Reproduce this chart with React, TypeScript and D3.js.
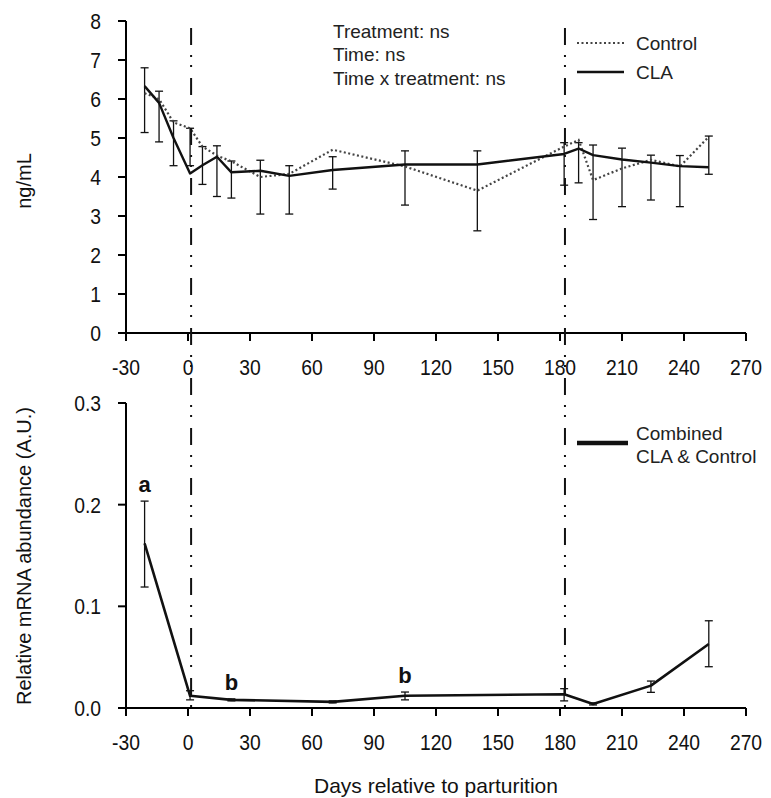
import React from "react";
import * as d3 from "d3";

// ---- Data ----
const topDays = [-21, -14, -7, 1, 7, 14, 21, 35, 49, 70, 105, 140, 182, 189, 196, 210, 224, 238, 252];
const claValues = [6.33, 5.9, 5.0, 4.09, 4.3, 4.52, 4.12, 4.16, 4.03, 4.18, 4.32, 4.32, 4.59, 4.73, 4.56, 4.45, 4.37, 4.28, 4.25];
const controlValues = [6.15, 6.0, 5.4, 5.25, 4.78, 4.55, 4.4, 4.0, 4.08, 4.7, 4.27, 3.65, 4.78, 4.95, 3.92, 4.22, 4.44, 4.27, 5.03];
const topErrLow = [5.14, 4.9, 4.29, 4.29, 3.81, 3.5, 3.46, 3.05, 3.05, 3.69, 3.28, 2.62, 3.79, 3.85, 2.91, 3.24, 3.41, 3.24, 4.07];
const topErrHigh = [6.8, 6.2, 5.44, 5.25, 4.78, 4.8, 4.41, 4.43, 4.29, 4.52, 4.67, 4.67, 4.88, 4.88, 4.82, 4.74, 4.56, 4.55, 5.05];

const botDays = [-21, 1, 21, 70, 105, 182, 196, 224, 252];
const mrnaValues = [0.162, 0.012, 0.008, 0.006, 0.012, 0.0135, 0.004, 0.022, 0.063];
const botErrLow = [0.119, 0.008, 0.007, 0.005, 0.008, 0.007, 0.003, 0.0154, 0.0406];
const botErrHigh = [0.2035, 0.017, 0.009, 0.007, 0.0157, 0.019, 0.005, 0.0265, 0.0858];

const xTicks = [-30, 0, 30, 60, 90, 120, 150, 180, 210, 240, 270];
const topYTicks = [0, 1, 2, 3, 4, 5, 6, 7, 8];
const botYTicks = [0, 0.1, 0.2, 0.3];
const refLineDays = [1.5, 182.4];
const sigLetters = [
  { day: -21, value: 0.2035, letter: "a" },
  { day: 21, value: 0.009, letter: "b" },
  { day: 105, value: 0.0157, letter: "b" },
];
const statsLines = ["Treatment:  ns", "Time: ns", "Time x treatment: ns"];

const FONT = "'Liberation Sans', Arial, Helvetica, sans-serif";

export default function App() {
  const x = d3.scaleLinear().domain([-30, 270]).range([126, 746]);
  const yTop = d3.scaleLinear().domain([0, 8]).range([333, 21]);
  const yBot = d3.scaleLinear().domain([0, 0.3]).range([708, 403]);

  const topLine = (vals: number[]) =>
    d3.line<number>().x((_, i) => x(topDays[i])).y((v) => yTop(v))(vals) || "";
  const botLine =
    d3.line<number>().x((_, i) => x(botDays[i])).y((v) => yBot(v))(mrnaValues) || "";

  const cap = 4;
  const errBar = (cx: number, y1: number, y2: number, key: string) => (
    <g key={key} stroke="#111" strokeWidth={1.3}>
      <line x1={cx} x2={cx} y1={y1} y2={y2} />
      <line x1={cx - cap} x2={cx + cap} y1={y1} y2={y1} />
      <line x1={cx - cap} x2={cx + cap} y1={y2} y2={y2} />
    </g>
  );

  // slightly tall, narrow text like the reference
  const tallText = (tx: number, ty: number, s: string, size: number, anchor: string, key?: string) => (
    <text
      key={key}
      transform={`translate(${tx},${ty}) scale(0.92,1.08)`}
      textAnchor={anchor as any}
      fontSize={size}
      fontFamily={FONT}
      fill="#111"
    >
      {s}
    </text>
  );

  const xAxis = (y0: number, key: string) => (
    <g key={key}>
      <line x1={x(-30)} x2={x(270)} y1={y0} y2={y0} stroke="#000" strokeWidth={2} />
      {xTicks.map((t) => (
        <g key={t}>
          <line x1={x(t)} x2={x(t)} y1={y0} y2={y0 + 8} stroke="#000" strokeWidth={2} />
          {tallText(x(t), y0 + 42, String(t), 21, "middle")}
        </g>
      ))}
    </g>
  );

  return (
    <svg
      width={771}
      height={798}
      style={{ position: "absolute", left: 0, top: 0, background: "#fff" }}
    >
      <rect width={771} height={798} fill="#fff" />

      {/* ---------- Top panel ---------- */}
      <line x1={126} x2={126} y1={yTop(8)} y2={yTop(0)} stroke="#000" strokeWidth={2} />
      {topYTicks.map((t) => (
        <g key={t}>
          <line x1={118} x2={126} y1={yTop(t)} y2={yTop(t)} stroke="#000" strokeWidth={2} />
          {tallText(101, yTop(t) + 8, String(t), 21, "end")}
        </g>
      ))}
      {xAxis(yTop(0), "xt")}

      {topDays.map((d, i) => errBar(x(d), yTop(topErrHigh[i]), yTop(topErrLow[i]), "te" + i))}
      <path d={topLine(controlValues)} fill="none" stroke="#444" strokeWidth={2.2} strokeDasharray="2,2.5" />
      <path d={topLine(claValues)} fill="none" stroke="#111" strokeWidth={2.4} strokeLinejoin="round" />

      {statsLines.map((s, i) => (
        <text key={s} x={333} y={38 + i * 23.3} fontSize={19} fontFamily={FONT} fill="#222">
          {s}
        </text>
      ))}

      {/* top legend */}
      <line x1={577} x2={624} y1={43} y2={43} stroke="#444" strokeWidth={2.2} strokeDasharray="2,2.5" />
      <text x={636} y={50} fontSize={19} fontFamily={FONT} fill="#222">Control</text>
      <line x1={577} x2={624} y1={72} y2={72} stroke="#111" strokeWidth={2.4} />
      <text x={636} y={79} fontSize={19} fontFamily={FONT} fill="#222">CLA</text>

      <text
        transform={`translate(31,181) rotate(-90)`}
        textAnchor="middle"
        fontSize={20}
        fontFamily={FONT}
        fill="#111"
      >
        ng/mL
      </text>

      {/* ---------- Bottom panel ---------- */}
      <line x1={126} x2={126} y1={yBot(0.3)} y2={yBot(0)} stroke="#000" strokeWidth={2} />
      {botYTicks.map((t) => (
        <g key={t}>
          <line x1={118} x2={126} y1={yBot(t)} y2={yBot(t)} stroke="#000" strokeWidth={2} />
          {tallText(101, yBot(t) + 8, d3.format(".1f")(t), 21, "end")}
        </g>
      ))}
      {xAxis(yBot(0), "xb")}

      {botDays.map((d, i) => errBar(x(d), yBot(botErrHigh[i]), yBot(botErrLow[i]), "be" + i))}
      <path d={botLine} fill="none" stroke="#111" strokeWidth={2.6} strokeLinejoin="round" />

      {sigLetters.map((s, i) => (
        <text
          key={i}
          x={x(s.day)}
          y={yBot(s.value) - 9}
          textAnchor="middle"
          fontSize={22}
          fontWeight="bold"
          fontFamily={FONT}
          fill="#111"
        >
          {s.letter}
        </text>
      ))}

      {/* bottom legend */}
      <line x1={577} x2={628} y1={443} y2={443} stroke="#111" strokeWidth={4.5} />
      <text x={636} y={440} fontSize={19} fontFamily={FONT} fill="#222">Combined</text>
      <text x={636} y={463} fontSize={19} fontFamily={FONT} fill="#222">CLA &amp; Control</text>

      <text
        transform={`translate(31,556) rotate(-90)`}
        textAnchor="middle"
        fontSize={20}
        fontFamily={FONT}
        fill="#111"
      >
        Relative mRNA abundance (A.U.)
      </text>

      {/* reference dash-dot lines */}
      {refLineDays.map((d) => (
        <line
          key={d}
          x1={x(d)}
          x2={x(d)}
          y1={28}
          y2={yBot(0)}
          stroke="#111"
          strokeWidth={2}
          strokeDasharray="17,10,2,8,2,11"
        />
      ))}

      <text x={436} y={793} textAnchor="middle" fontSize={21} fontFamily={FONT} fill="#111">
        Days relative to parturition
      </text>
    </svg>
  );
}
